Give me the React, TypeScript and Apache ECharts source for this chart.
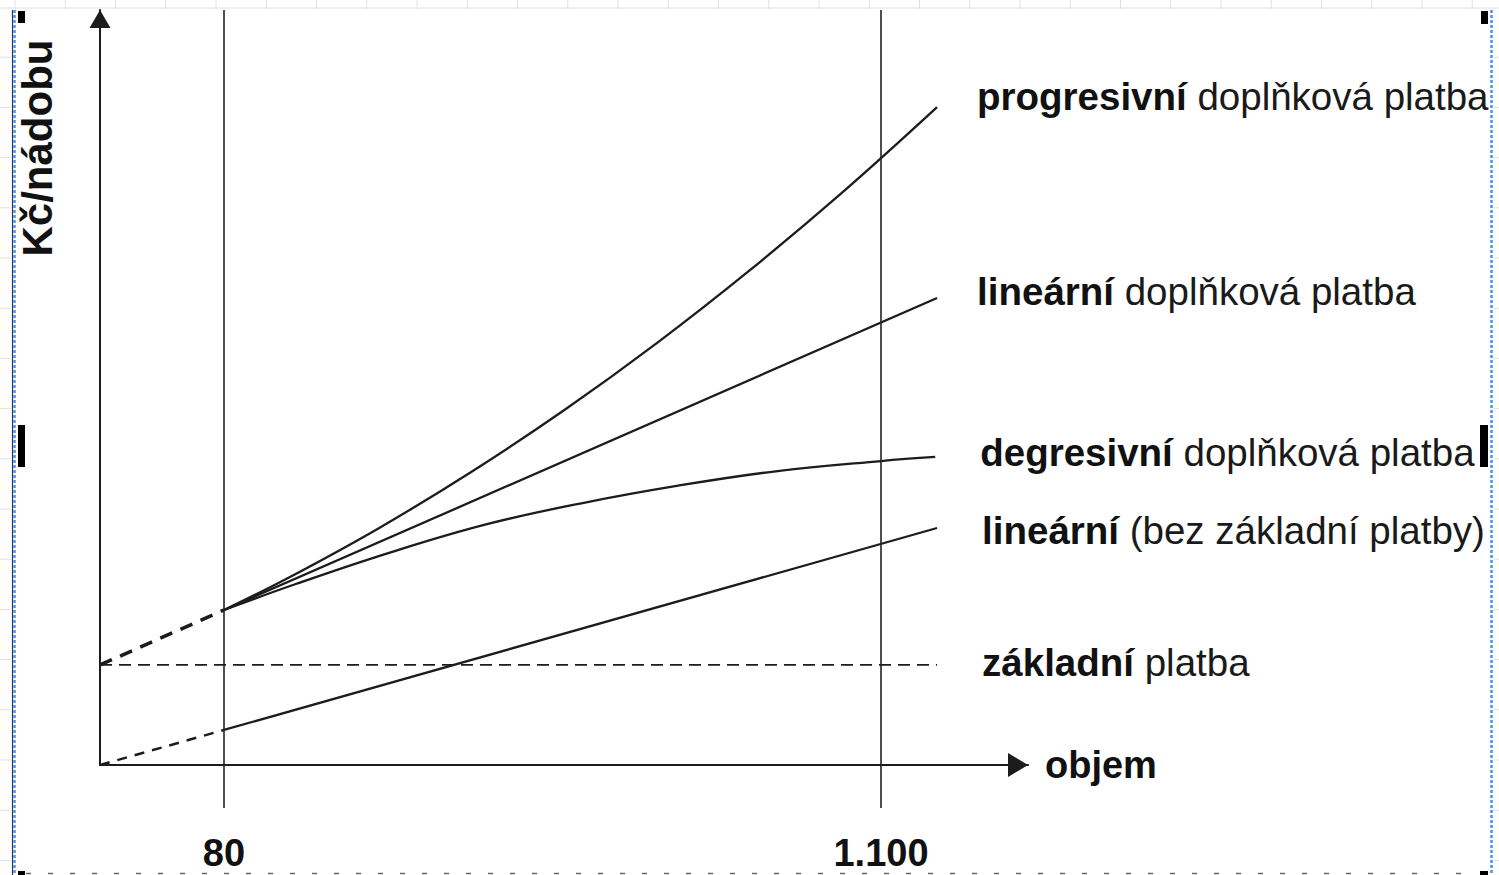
import React, { useEffect, useRef } from 'react';
import * as echarts from 'echarts';

// ---- data (schematic units: x = objem, y = Kč/nádobu) ----
const X_TICK_VALUES = [13.36, 84.16];
const X_TICK_LABELS = ['80', '1.100'];

const PROGRESSIVE = [
  [13.36, 20.53], [20, 24.6], [30, 31.34], [40, 38.81], [50, 46.98],
  [60, 55.88], [70, 65.51], [80, 75.84], [90.2, 87.13],
];
const LINEAR = [[13.36, 20.53], [90.2, 61.85]];
const DEGRESSIVE = [
  [13.36, 20.53], [21.1, 23.97], [31.4, 28.2], [41.7, 31.9], [52.0, 34.7],
  [62.3, 37.0], [72.6, 38.87], [84.16, 40.26], [90.0, 40.8],
];
const LINEAR_NO_BASE = [[13.36, 4.64], [90.2, 31.39]];
const BASE = [[0, 13.25], [90.2, 13.25]];
const LEAD_UPPER = [[0, 13.25], [13.36, 20.53]];
const LEAD_LOWER = [[0, 0], [13.36, 4.64]];

const FONT = '"Liberation Sans", Arial, sans-serif';
const INK = '#1c1c1c';
const LABEL_SIZE = 38.5;

function endLabel(bold: string, normal: string, distance: number, dy: number) {
  return {
    show: true,
    formatter: `{b|${bold}} {n|${normal}}`,
    distance,
    offset: [0, dy],
    fontFamily: FONT,
    fontSize: LABEL_SIZE,
    color: '#111',
    rich: {
      b: { fontWeight: 'bold', fontSize: LABEL_SIZE, fontFamily: FONT, color: '#111' },
      n: { fontSize: LABEL_SIZE, fontFamily: FONT, color: '#1a1a1a' },
    },
  };
}

function background() {
  const els: any[] = [];
  const grid = '#e0e0e0';
  for (let k = 0; k < 31; k++) {
    const x = 15 + 50.25 * k;
    if (x > 1499) break;
    els.push({ type: 'line', silent: true, shape: { x1: x, y1: 0, x2: x, y2: 9 }, style: { stroke: grid, lineWidth: 1 } });
  }
  els.push({ type: 'line', silent: true, shape: { x1: 0, y1: 8, x2: 1499, y2: 8 }, style: { stroke: grid, lineWidth: 1 } });
  for (let k = 1; k < 18; k++) {
    const y = 7 + 50.2 * k;
    if (y > 875) break;
    els.push({ type: 'line', silent: true, shape: { x1: 0, y1: y, x2: 11, y2: y }, style: { stroke: grid, lineWidth: 1 } });
    els.push({ type: 'line', silent: true, shape: { x1: 1494, y1: y, x2: 1499, y2: y }, style: { stroke: grid, lineWidth: 1 } });
  }
  els.push({ type: 'line', silent: true, shape: { x1: 12.5, y1: 10, x2: 12.5, y2: 875 }, style: { stroke: '#2f3848', lineWidth: 1.2 } });
  els.push({ type: 'line', silent: true, shape: { x1: 14.5, y1: 10, x2: 14.5, y2: 875 }, style: { stroke: '#4d8ff5', lineWidth: 2.5, lineDash: [3, 2] } });
  els.push({ type: 'line', silent: true, shape: { x1: 1491.5, y1: 10, x2: 1491.5, y2: 875 }, style: { stroke: '#4d8ff5', lineWidth: 2.5, lineDash: [3, 2] } });
  els.push({ type: 'line', silent: true, shape: { x1: 26, y1: 873.5, x2: 1478, y2: 873.5 }, style: { stroke: '#666', lineWidth: 1.5, lineDash: [5, 17] } });
  const handles = [
    [18, 11, 7, 12], [18, 425, 7, 42], [18, 871, 7, 4],
    [1481, 11, 7, 13], [1480, 425, 8, 42], [1480, 871, 8, 4],
  ];
  handles.forEach(([x, y, w, h]) => {
    els.push({ type: 'rect', silent: true, shape: { x, y, width: w, height: h }, style: { fill: '#000' } });
  });
  els.push({
    type: 'text',
    x: 37,
    y: 148,
    rotation: Math.PI / 2,
    style: { text: 'Kč/nádobu', font: `bold 42px ${FONT}`, fill: '#111', align: 'center', verticalAlign: 'middle' },
  });
  return els;
}

export default function App() {
  const ref = useRef<HTMLDivElement>(null);
  useEffect(() => {
    document.body.style.margin = '0';
    const chart = echarts.init(ref.current!, null, { renderer: 'svg' });
    const solid = (data: number[][], label: any, extra: any = {}) => ({
      type: 'line',
      data,
      smooth: 0.4,
      symbol: 'none',
      silent: true,
      lineStyle: { color: INK, width: 2.3 },
      endLabel: label,
      ...extra,
    });
    const option: any = {
      animation: false,
      backgroundColor: '#fff',
      grid: { left: 100, top: 10, right: 1499 - 1028, bottom: 875 - 765, outerBoundsMode: 'none', containLabel: false },
      xAxis: {
        type: 'value',
        min: 0,
        max: 100,
        name: 'objem',
        nameLocation: 'end',
        nameGap: 17,
        nameTextStyle: { fontFamily: FONT, fontSize: 38, fontWeight: 'bold', color: '#111', verticalAlign: 'middle', padding: [10, 0, 0, 0] },
        axisLine: { show: true, lineStyle: { color: INK, width: 2 }, symbol: ['none', 'triangle'], symbolSize: [24, 20], symbolOffset: [0, -10] },
        axisTick: { show: true, customValues: X_TICK_VALUES, length: 43, lineStyle: { color: '#222', width: 1.6 } },
        axisLabel: {
          show: true,
          customValues: X_TICK_VALUES,
          margin: 71,
          fontFamily: FONT,
          fontSize: 38,
          lineHeight: 34,
          fontWeight: 'bold',
          color: '#111',
          formatter: (v: number) => {
            const i = X_TICK_VALUES.findIndex((t) => Math.abs(t - v) < 1e-6);
            return i >= 0 ? X_TICK_LABELS[i] : '';
          },
        },
        splitLine: { show: false },
      },
      yAxis: {
        type: 'value',
        min: 0,
        max: 100,
        axisLine: { show: true, lineStyle: { color: INK, width: 2 }, symbol: ['none', 'triangle'], symbolSize: [21, 18], symbolOffset: [0, -9] },
        axisTick: { show: false },
        axisLabel: { show: false },
        splitLine: { show: false },
      },
      graphic: background(),
      series: [
        solid(PROGRESSIVE, endLabel('progresivní', 'doplňková platba', 40, -11)),
        solid(LINEAR, endLabel('lineární', 'doplňková platba', 40, -7), {
          smooth: false,
          markLine: {
            silent: true,
            symbol: ['none', 'none'],
            label: { show: false },
            lineStyle: { type: 'solid', color: '#222', width: 1.6 },
            data: X_TICK_VALUES.map((v) => ({ xAxis: v })),
          },
        }),
        solid(DEGRESSIVE, endLabel('degresivní', 'doplňková platba', 45, -4)),
        solid(LINEAR_NO_BASE, endLabel('lineární', '(bez základní platby)', 45, 2), { smooth: false }),
        solid(BASE, endLabel('základní', 'platba', 45, -2), {
          smooth: false,
          lineStyle: { color: INK, width: 1.8, type: [12, 7] },
        }),
        {
          type: 'line', data: LEAD_UPPER, symbol: 'none', silent: true,
          lineStyle: { color: INK, width: 3.5, type: [13, 9] },
        },
        {
          type: 'line', data: LEAD_LOWER, symbol: 'none', silent: true,
          lineStyle: { color: INK, width: 2.5, type: [10, 8] },
        },
      ],
    };
    chart.setOption(option);
    return () => chart.dispose();
  }, []);
  return <div ref={ref} style={{ width: 1499, height: 875 }} />;
}
